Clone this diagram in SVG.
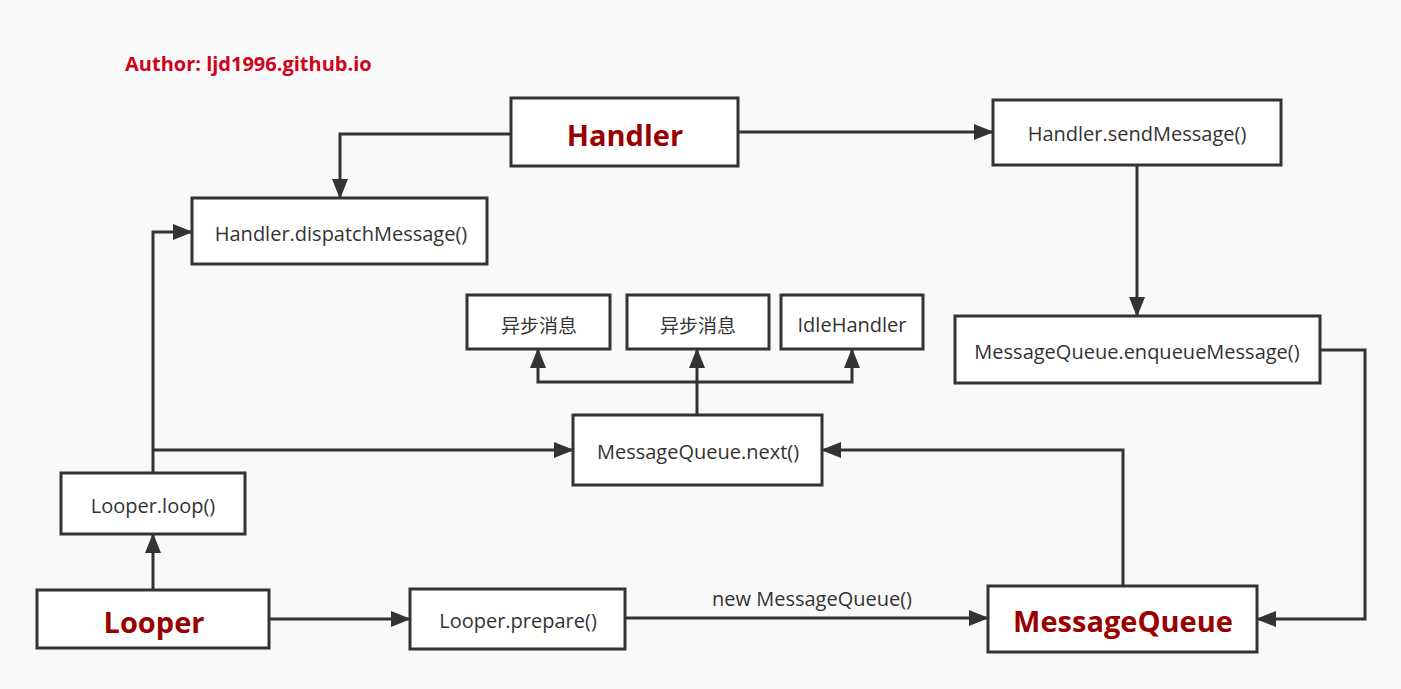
<svg xmlns="http://www.w3.org/2000/svg" width="1401" height="689" viewBox="0 0 1401 689">
<defs>
<marker id="arr" markerWidth="20" markerHeight="16" refX="19" refY="8" orient="auto" markerUnits="userSpaceOnUse">
<path d="M0,0 L20,8 L0,16 Z" fill="#333"/>
</marker>
<style>
.box{fill:#fff;stroke:#333;stroke-width:3}
.t{font-family:"Open Sans","Noto Sans","Noto Sans CJK SC",sans-serif;font-size:20px;fill:#333;text-anchor:middle;dominant-baseline:central}
.cjk{font-family:"Noto Sans CJK SC",sans-serif;font-size:19px;fill:#333;text-anchor:middle;dominant-baseline:central}
.b{font-family:"Open Sans","Noto Sans",sans-serif;font-size:29px;font-weight:bold;fill:#990000;text-anchor:middle;dominant-baseline:central}
.c{fill:none;stroke:#333;stroke-width:3;marker-end:url(#arr)}
</style>
</defs>
<rect width="1401" height="689" fill="#f9f9f9"/>
<text x="125" y="71" font-family="'Open Sans','Noto Sans',sans-serif" font-size="20" font-weight="bold" fill="#d0021b">Author: ljd1996.github.io</text>
<g id="connectors">
<path class="c" d="M511,134 H340 V198"/>
<path class="c" d="M738,132 H993"/>
<path class="c" d="M1137,165 V316"/>
<path class="c" d="M1320,350 H1365 V619 H1257"/>
<path class="c" d="M1123,586 V450 H822"/>
<path class="c" d="M153,590 V534"/>
<path class="c" d="M153,473 V232 H192"/>
<path class="c" d="M153,450 H573"/>
<path class="c" d="M697,415 V349"/>
<path class="c" d="M697,382 H538 V349"/>
<path class="c" d="M697,382 H852 V349"/>
<path class="c" d="M269,619 H410"/>
<path class="c" d="M625,618 H988"/>
<text class="t" x="812" y="598">new MessageQueue()</text>
</g>
<g id="handler"><rect class="box" x="511" y="98" width="227" height="68"/><text class="b" x="625" y="134">Handler</text></g>
<g id="sendMessage"><rect class="box" x="993" y="100" width="288" height="65"/><text class="t" x="1137" y="133">Handler.sendMessage()</text></g>
<g id="dispatchMessage"><rect class="box" x="192" y="198" width="295" height="66"/><text class="t" x="341" y="233">Handler.dispatchMessage()</text></g>
<g id="async1"><rect class="box" x="467" y="295" width="143" height="54"/><text class="cjk" x="539" y="324">异步消息</text></g>
<g id="async2"><rect class="box" x="627" y="295" width="142" height="54"/><text class="cjk" x="698" y="324">异步消息</text></g>
<g id="idleHandler"><rect class="box" x="781" y="295" width="142" height="54"/><text class="t" x="852" y="324">IdleHandler</text></g>
<g id="enqueueMessage"><rect class="box" x="955" y="316" width="365" height="67"/><text class="t" x="1137" y="351">MessageQueue.enqueueMessage()</text></g>
<g id="next"><rect class="box" x="573" y="415" width="249" height="70"/><text class="t" x="698" y="451">MessageQueue.next()</text></g>
<g id="loop"><rect class="box" x="61" y="473" width="184" height="61"/><text class="t" x="153" y="505">Looper.loop()</text></g>
<g id="looper"><rect class="box" x="37" y="590" width="232" height="58"/><text class="b" x="154" y="621">Looper</text></g>
<g id="prepare"><rect class="box" x="410" y="589" width="215" height="60"/><text class="t" x="518" y="620">Looper.prepare()</text></g>
<g id="messageQueue"><rect class="box" x="988" y="586" width="269" height="66"/><text class="b" x="1123" y="620">MessageQueue</text></g>
</svg>
